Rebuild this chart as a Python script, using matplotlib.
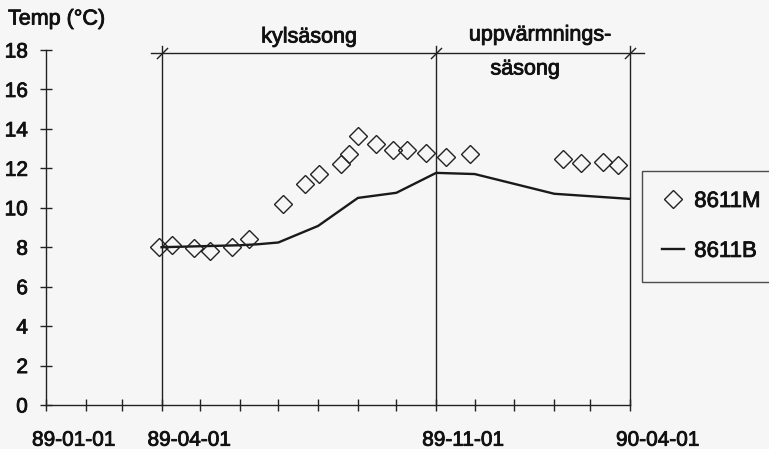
import matplotlib
matplotlib.use("Agg")
import matplotlib.pyplot as plt
import matplotlib.dates as mdates
import matplotlib.transforms as mtransforms
import matplotlib.patheffects as pe
from matplotlib.path import Path
from datetime import datetime

plt.rcParams['font.family'] = ['Liberation Sans', 'DejaVu Sans']

# ---- data ----
m_dates = ['1989-03-30', '1989-04-09', '1989-04-26', '1989-05-09', '1989-05-26', '1989-06-08',
           '1989-07-05', '1989-07-22', '1989-08-02', '1989-08-19', '1989-08-25', '1989-09-01',
           '1989-09-15', '1989-09-28', '1989-10-09', '1989-10-24', '1989-11-09', '1989-11-27',
           '1990-02-08', '1990-02-22', '1990-03-11', '1990-03-23']
m_vals = [8.0, 8.11, 7.95, 7.81, 8.03, 8.42, 10.21, 11.19, 11.71, 12.21, 12.71, 13.64,
          13.22, 12.93, 12.93, 12.76, 12.59, 12.71, 12.46, 12.26, 12.34, 12.17]

b_dates = ['1989-04-01', '1989-05-01', '1989-06-01', '1989-06-15', '1989-07-01', '1989-08-01',
           '1989-09-01', '1989-10-01', '1989-11-01', '1989-12-01', '1990-02-01', '1990-04-01']
b_vals = [8.0, 8.05, 8.1, 8.15, 8.24, 9.08, 10.5, 10.76, 11.77, 11.71, 10.71, 10.45]

season_bounds = ['1989-04-01', '1989-11-01', '1990-04-01']
season_line = ['1989-03-24', '1990-04-12']
season_level = 17.83
tick_labels = ['89-01-01', '89-04-01', '89-11-01', '90-04-01']
label_dates = ['1989-01-01', '1989-04-01', '1989-11-01', '1990-04-01']
y_ticks = list(range(0, 19, 2))

def d(s):
    return datetime.strptime(s, '%Y-%m-%d')

W, H = 769, 449
bg = '#f6f6f6'
ink = '#111111'
fs = 15
heavy = [pe.withStroke(linewidth=0.6, foreground=ink)]
fig = plt.figure(figsize=(W / 100, H / 100), dpi=100, facecolor=bg)
ax = fig.add_axes([46 / W, 1 - 405 / H, 584 / W, 355 / H], facecolor=bg)

ax.set_xlim(d('1989-01-01'), d('1990-04-01'))
ax.set_ylim(0, 18)

# season frame
for s in season_bounds:
    ax.plot([d(s), d(s)], [0, 18.2], color='#222222', lw=1.0, clip_on=False, zorder=2)
ax.plot([d(season_line[0]), d(season_line[1])], [season_level, season_level],
        color='#222222', lw=1.0, clip_on=False, zorder=2)
slash = Path([(-1, -1), (1, 1)], [Path.MOVETO, Path.LINETO])
ax.plot([d(s) for s in season_bounds], [season_level] * 3, linestyle='none',
        marker=slash, markersize=8, markeredgewidth=1.0, color='#222222', clip_on=False, zorder=3)

# data
ax.plot([d(s) for s in b_dates], b_vals, color='#1a1a1a', lw=1.7, zorder=3, label='8611B')
ax.plot([d(s) for s in m_dates], m_vals, linestyle='none', marker='D', markersize=9,
        markerfacecolor='none', markeredgecolor='#222222', markeredgewidth=1.0, zorder=4,
        label='8611M')

# axes styling
for sp in ['top', 'right']:
    ax.spines[sp].set_visible(False)
for sp in ['left', 'bottom']:
    ax.spines[sp].set_linewidth(1.0)
    ax.spines[sp].set_color('#222222')

ax.set_yticks(y_ticks)
ax.set_yticklabels([str(v) for v in y_ticks])
ax.tick_params(axis='y', direction='inout', length=8, width=1.0, colors='#222222',
               labelsize=fs, pad=9, labelcolor=ink)

ax.set_xticks([d(s) for s in label_dates])
ax.xaxis.set_minor_locator(mdates.MonthLocator())
ax.set_xticklabels(tick_labels)
ax.tick_params(axis='x', which='both', direction='inout', length=9, width=1.0,
               colors='#222222', labelsize=fs, pad=14, labelcolor=ink)
shift = mtransforms.ScaledTranslation(-14 / 100, 0, fig.dpi_scale_trans)
for lab in ax.get_xticklabels():
    lab.set_horizontalalignment('left')
    lab.set_transform(lab.get_transform() + shift)
for lab in ax.get_xticklabels() + ax.get_yticklabels():
    lab.set_path_effects(heavy)

# texts
for x, y, s in [(8, 19, 'Temp (°C)'), (309, 37, 'kylsäsong'),
                (540, 35, 'uppvärmnings-'), (525, 69, 'säsong')]:
    fig.text(x / W, 1 - y / H, s, fontsize=fs + 0.5,
             ha='left' if x < 20 else 'center', va='center', color=ink, path_effects=heavy)

# legend
handles, labels = ax.get_legend_handles_labels()
leg = fig.legend(handles[::-1], labels[::-1], loc='upper left',
                 bbox_to_anchor=(642 / W, 1 - 283 / H, 160 / W, 112 / H),
                 bbox_transform=fig.transFigure, mode='expand', borderaxespad=0,
                 fontsize=16, frameon=True, fancybox=False, borderpad=0.9,
                 labelspacing=1.3, handlelength=1.0, handletextpad=0.45)
leg.get_frame().set_edgecolor('#222222')
leg.get_frame().set_linewidth(1.0)
leg.get_frame().set_facecolor(bg)
for t in leg.get_texts():
    t.set_color(ink)
    t.set_path_effects(heavy)

fig.savefig('out.png', dpi=100, facecolor=bg)
